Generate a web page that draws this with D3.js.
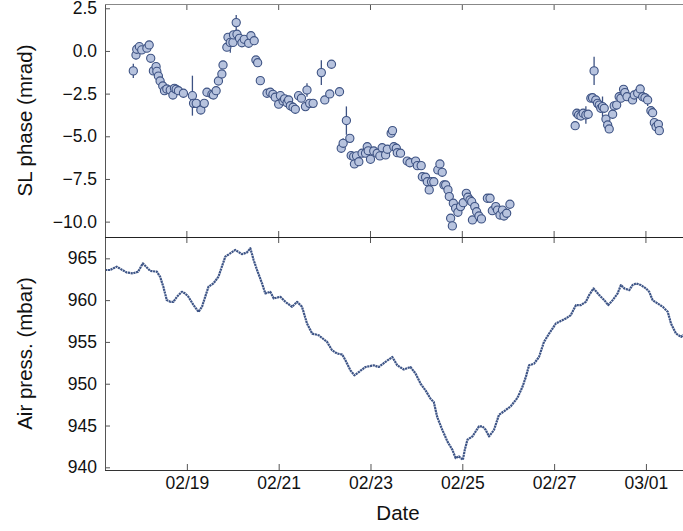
<!DOCTYPE html>
<html>
<head>
<meta charset="utf-8">
<script src="https://cdn.jsdelivr.net/npm/d3@7"></script>
<style>
  body { margin: 0; background: #fff; }
  svg text { font-family: "Liberation Sans", Arial, sans-serif; fill: #111; }
</style>
</head>
<body>
<div id="chart"></div>
<script>
// time values are hours since 2017-02-17 00:00
const xDomainHours = [5.2, 307.9];
const dateTicks = ['2017-02-19', '2017-02-21', '2017-02-23', '2017-02-25', '2017-02-27', '2017-03-01'];
const phaseTicks = [2.5, 0, -2.5, -5, -7.5, -10];
const pressTicks = [965, 960, 955, 950, 945, 940];

// SL phase: [hours, mrad, error]
const phaseData = [
  [20.0,-1.17,0.42],[21.4,-0.24,0.25],[21.8,0.10,0.2],[23.2,0.25,0.2],[24.4,0.06,0.2],
  [27.1,0.16,0.2],[28.3,0.35,0.2],[29.1,-0.43,0.2],[30.5,-1.17,0.2],[31.9,-0.92,0.2],
  [32.3,-1.20,0.2],[33.1,-1.47,0.2],[34.0,-1.76,0.2],[35.4,-2.05,0.2],[36.3,-2.33,0.2],
  [37.5,-2.23,0.2],[39.3,-2.29,0.2],[40.7,-2.58,0.2],[41.5,-2.19,0.2],[42.4,-2.25,0.2],
  [43.6,-2.33,0.2],[46.2,-2.48,0.2],[50.9,-2.62,1.17],[51.5,-3.07,0.2],[52.9,-3.07,0.2],
  [55.3,-3.46,0.2],[57.1,-3.07,0.2],[58.5,-2.42,0.2],[61.1,-2.54,0.2],[61.9,-2.58,0.2],
  [63.3,-2.33,0.2],[64.5,-1.76,0.2],[66.3,-1.35,0.2],[66.9,-0.82,0.2],[68.9,0.22,0.2],
  [69.5,0.80,0.2],[70.7,0.50,0.6],[72.1,0.50,0.2],[72.4,0.94,0.2],[73.8,1.66,0.44],
  [74.2,0.98,0.2],[75.5,0.74,0.2],[76.8,0.48,0.2],[78.0,0.68,0.2],[80.3,0.45,0.2],
  [81.5,0.89,0.2],[83.2,0.60,0.2],[84.1,-0.53,0.2],[85.0,-0.69,0.2],[86.4,-1.74,0.2],
  [89.9,-2.48,0.2],[91.6,-2.42,0.2],[93.0,-2.54,0.2],[94.2,-2.71,0.2],[96.0,-3.12,0.2],
  [96.9,-2.62,0.2],[98.3,-2.93,0.2],[99.1,-2.81,0.2],[100.4,-3.03,0.2],[101.2,-2.87,0.2],
  [102.1,-3.21,0.2],[103.5,-3.30,0.2],[104.7,-3.42,0.2],[106.4,-2.62,0.2],[107.9,-2.77,0.2],
  [110.0,-3.26,0.2],[110.8,-2.29,0.39],[112.2,-3.07,0.2],[114.0,-3.07,0.2],[118.3,-1.27,0.73],
  [120.1,-2.87,0.2],[122.7,-2.52,0.2],[123.6,-0.78,0.2],[127.8,-2.39,0.2],[128.7,-5.70,0.2],
  [129.7,-5.41,0.3],[131.4,-4.08,0.83],[133.2,-5.12,0.2],[133.9,-6.13,0.2],[135.2,-6.19,0.2],
  [135.6,-6.62,0.2],[136.7,-6.15,0.2],[137.9,-6.49,0.2],[139.6,-5.99,0.2],[141.4,-5.99,0.2],
  [142.3,-5.61,0.2],[142.8,-5.85,0.2],[144.0,-6.35,0.2],[145.7,-5.86,0.2],[147.5,-5.99,0.2],
  [148.9,-6.15,0.2],[150.1,-5.67,0.2],[151.9,-6.09,0.2],[152.8,-5.76,0.2],[154.8,-4.82,0.2],
  [155.5,-4.67,0.2],[156.2,-5.61,0.2],[157.5,-5.70,0.2],[158.0,-5.96,0.2],[159.7,-5.99,0.2],
  [163.2,-6.45,0.2],[164.6,-6.55,0.2],[167.6,-6.45,0.2],[168.5,-6.72,0.2],[170.5,-6.72,0.2],
  [171.1,-7.37,0.2],[172.8,-7.40,0.2],[173.7,-7.66,0.2],[174.7,-8.14,0.2],[175.9,-7.66,0.2],
  [177.1,-7.66,0.2],[179.2,-6.97,0.2],[180.3,-6.62,0.2],[181.5,-7.11,0.2],[182.4,-7.85,0.2],
  [183.3,-7.85,0.2],[184.5,-8.14,0.2],[185.2,-8.53,0.2],[185.9,-9.80,0.2],[186.8,-10.25,0.2],
  [187.3,-8.92,0.2],[188.5,-9.22,0.2],[189.7,-9.45,0.2],[191.1,-9.12,0.2],[192.5,-8.89,0.2],
  [194.1,-8.34,0.2],[194.9,-8.57,0.2],[196.0,-8.73,0.2],[196.9,-8.83,0.2],[197.3,-9.90,0.2],
  [198.5,-9.12,0.2],[199.5,-9.42,0.2],[200.7,-9.67,0.2],[202.0,-9.84,0.2],[205.1,-8.63,0.2],
  [206.5,-8.63,0.2],[207.7,-9.36,0.2],[209.5,-9.12,0.2],[210.4,-9.32,0.2],[211.7,-9.61,0.2],
  [213.0,-9.32,0.2],[213.8,-9.67,0.2],[215.2,-9.51,0.2],[216.9,-8.98,0.2],
  [251.0,-4.38,0.2],[251.9,-3.65,0.2],[252.8,-3.75,0.2],[254.0,-3.81,0.2],[255.2,-3.65,0.2],
  [256.6,-3.75,0.51],[257.8,-3.71,0.2],[259.2,-2.77,0.2],[260.1,-2.74,0.2],[260.9,-1.17,0.83],
  [261.8,-2.87,0.2],[262.7,-3.07,0.2],[263.6,-3.17,0.2],[264.4,-3.36,0.2],[265.3,-3.26,0.59],
  [266.2,-3.36,0.2],[267.1,-3.99,0.2],[268.0,-4.34,0.2],[268.8,-4.57,0.2],[270.6,-3.71,0.2],
  [271.4,-3.22,0.2],[272.7,-3.17,0.2],[274.0,-2.68,0.2],[274.9,-2.77,0.2],[276.3,-2.25,0.2],
  [277.0,-2.44,0.2],[278.1,-2.68,0.2],[281.0,-2.87,0.2],[281.9,-2.58,0.2],[283.7,-2.48,0.2],
  [285.0,-2.23,0.2],[286.3,-2.68,0.2],[287.5,-2.74,0.2],[288.9,-2.87,0.35],[290.6,-3.50,0.2],
  [291.5,-3.62,0.2],[292.4,-4.20,0.2],[293.3,-4.44,0.2],[294.5,-4.30,0.2],[295.0,-4.67,0.2]
];

// air pressure
const pressHours = [
  5.2, 7.8, 11.3, 16.6, 19.9, 22.5, 25.0, 28.8, 32.3, 34.0, 35.7, 37.5, 39.3, 41.0, 42.8,
  45.4, 47.1, 48.8, 51.5, 54.1, 55.9, 57.6, 59.3, 61.9, 64.5, 66.3, 68.1, 70.7, 73.3, 76.8,
  79.4, 81.2, 82.9, 84.7, 87.3, 89.0, 91.6, 93.4, 96.9, 99.5, 103.0, 105.6, 108.2, 110.8, 113.5,
  116.9, 121.3, 123.9, 126.6, 129.2, 130.9, 133.5, 135.6, 137.9, 141.4, 145.7, 148.3, 151.8, 155.4, 158.0,
  161.4, 164.9, 167.6, 170.2, 172.8, 175.4, 177.1, 178.9, 181.5, 184.2, 186.8, 188.5, 190.2, 192.3, 193.4,
  194.7, 197.3, 200.7, 202.5, 204.2, 206.0, 208.6, 211.2, 213.8, 217.3, 220.8, 223.4, 225.2, 226.9, 229.5,
  232.1, 234.7, 237.4, 240.9, 243.5, 246.1, 248.7, 251.4, 254.0, 256.6, 258.3, 260.6, 263.6, 266.2, 268.3,
  270.6, 273.2, 274.9, 276.7, 279.3, 281.0, 282.8, 285.4, 288.0, 289.7, 291.5, 294.1, 296.8, 299.4, 301.1,
  303.7, 306.4, 307.9
];
const pressValues = [
  963.6, 963.6, 964.0, 963.3, 963.2, 963.4, 964.4, 963.5, 963.4, 962.8, 961.6, 960.0, 959.8, 959.8, 960.4,
  961.0, 960.8, 960.4, 959.4, 958.6, 959.2, 960.4, 961.6, 962.0, 962.8, 964.0, 965.2, 965.6, 966.0, 965.5,
  965.7, 966.2, 964.8, 963.6, 962.0, 960.8, 961.0, 960.2, 960.4, 959.8, 959.2, 959.8, 959.2, 957.2, 956.0,
  955.8, 955.0, 954.0, 953.6, 953.5, 952.8, 951.6, 951.0, 951.4, 952.0, 952.2, 952.0, 952.6, 953.2, 952.2,
  951.7, 952.0, 951.2, 950.0, 949.2, 948.2, 947.8, 946.0, 944.5, 943.1, 942.1, 941.1, 941.3, 940.9, 942.2,
  943.3, 943.7, 944.9, 944.9, 944.5, 943.7, 944.5, 946.3, 946.7, 947.3, 948.3, 949.6, 950.8, 952.2, 952.4,
  953.2, 955.0, 956.0, 957.2, 957.5, 957.8, 958.2, 959.4, 959.4, 959.8, 960.6, 961.4, 960.6, 960.0, 959.4,
  960.0, 960.8, 961.8, 961.4, 961.2, 961.8, 962.0, 961.8, 961.4, 961.0, 960.0, 959.6, 959.2, 958.6, 957.2,
  956.0, 955.6, 955.9
];

const width = 683, height = 531;
const frame = {left: 105, right: 684, top: 4, mid: 237, bottom: 470};
const markFill = '#b7c3de', markStroke = '#3d5283', lineColor = '#3e5587';

const t0 = new Date(2017, 1, 17);
const toDate = h => new Date(t0.getTime() + h * 3600e3);
const parseDay = d3.timeParse('%Y-%m-%d');

const svg = d3.select('#chart').append('svg')
  .attr('width', width)
  .attr('height', height);

const x = d3.scaleTime()
  .domain(xDomainHours.map(toDate))
  .range([frame.left, frame.right]);

const yPhase = d3.scaleLinear().domain([-10.9, 2.75]).range([frame.mid, frame.top]);
const yPress = d3.scaleLinear().domain([939.68, 967.55]).range([frame.bottom, frame.mid]);

svg.append('clipPath').attr('id', 'clipTop').append('rect')
  .attr('x', frame.left).attr('y', frame.top)
  .attr('width', frame.right - frame.left).attr('height', frame.mid - frame.top);
svg.append('clipPath').attr('id', 'clipBot').append('rect')
  .attr('x', frame.left).attr('y', frame.mid)
  .attr('width', frame.right - frame.left).attr('height', frame.bottom - frame.mid);

// pressure trace
const pressLine = d3.line()
  .x((d, i) => x(toDate(pressHours[i])))
  .y(d => yPress(d));

svg.append('g').attr('clip-path', 'url(#clipBot)')
  .append('path')
  .datum(pressValues)
  .attr('d', pressLine)
  .attr('fill', 'none')
  .attr('stroke', lineColor)
  .attr('stroke-width', 2.2)
  .attr('stroke-dasharray', '2.2,0.6')
  .attr('stroke-linejoin', 'round');

// phase points with error bars
const phaseG = svg.append('g').attr('clip-path', 'url(#clipTop)');
phaseG.selectAll('line.err')
  .data(phaseData)
  .join('line')
  .attr('class', 'err')
  .attr('x1', d => x(toDate(d[0])))
  .attr('x2', d => x(toDate(d[0])))
  .attr('y1', d => yPhase(d[1] - d[2]))
  .attr('y2', d => yPhase(d[1] + d[2]))
  .attr('stroke', markStroke)
  .attr('stroke-width', 1.3);

phaseG.selectAll('circle')
  .data(phaseData)
  .join('circle')
  .attr('cx', d => x(toDate(d[0])))
  .attr('cy', d => yPhase(d[1]))
  .attr('r', 4.1)
  .attr('fill', markFill)
  .attr('stroke', markStroke)
  .attr('stroke-width', 1.1);

// y axes, ticks pointing inward
const fmtPhase = d3.format('.1f');
svg.append('g')
  .attr('transform', `translate(${frame.left},0)`)
  .call(d3.axisLeft(yPhase).tickValues(phaseTicks).tickFormat(fmtPhase).tickSize(-5).tickPadding(8))
  .call(g => g.select('.domain').remove());

svg.append('g')
  .attr('transform', `translate(${frame.left},0)`)
  .call(d3.axisLeft(yPress).tickValues(pressTicks).tickFormat(d3.format('d')).tickSize(-5).tickPadding(8))
  .call(g => g.select('.domain').remove());

// x axis labels at the bottom
const tickDates = dateTicks.map(parseDay);
svg.append('g')
  .attr('transform', `translate(0,${frame.bottom})`)
  .call(d3.axisBottom(x).tickValues(tickDates).tickFormat(d3.timeFormat('%m/%d')).tickSize(-6).tickPadding(7))
  .call(g => g.select('.domain').remove());

svg.selectAll('.tick text').attr('font-size', 17.5).attr('fill', '#111')
  .style('font-family', '"Liberation Sans", Arial, sans-serif');
svg.selectAll('.tick line').attr('stroke', '#555');

// extra x ticks on the top border and the panel divider
tickDates.forEach(d => {
  svg.append('line')
    .attr('x1', x(d)).attr('x2', x(d))
    .attr('y1', frame.top).attr('y2', frame.top + 6)
    .attr('stroke', '#555');
  svg.append('line')
    .attr('x1', x(d)).attr('x2', x(d))
    .attr('y1', frame.mid - 6).attr('y2', frame.mid + 6)
    .attr('stroke', '#555');
});

// frame
svg.append('line').attr('x1', frame.left + 0.5).attr('x2', frame.left + 0.5)
  .attr('y1', frame.top).attr('y2', frame.bottom + 1).attr('stroke', '#555');
svg.append('line').attr('x1', frame.left).attr('x2', frame.right)
  .attr('y1', frame.top + 0.5).attr('y2', frame.top + 0.5).attr('stroke', '#888');
svg.append('line').attr('x1', frame.left).attr('x2', frame.right)
  .attr('y1', frame.mid + 0.5).attr('y2', frame.mid + 0.5).attr('stroke', '#222');
svg.append('line').attr('x1', frame.left).attr('x2', frame.right)
  .attr('y1', frame.bottom + 0.5).attr('y2', frame.bottom + 0.5).attr('stroke', '#333');

// axis titles
svg.append('text')
  .attr('transform', `translate(32,${(frame.top + frame.mid) / 2}) rotate(-90)`)
  .attr('text-anchor', 'middle')
  .attr('font-size', 20.5)
  .text('SL phase (mrad)');

svg.append('text')
  .attr('transform', `translate(32,${(frame.mid + frame.bottom) / 2}) rotate(-90)`)
  .attr('text-anchor', 'middle')
  .attr('font-size', 20.5)
  .text('Air press. (mbar)');

svg.append('text')
  .attr('x', 398)
  .attr('y', 520)
  .attr('text-anchor', 'middle')
  .attr('font-size', 20.5)
  .text('Date');
</script>
</body>
</html>
